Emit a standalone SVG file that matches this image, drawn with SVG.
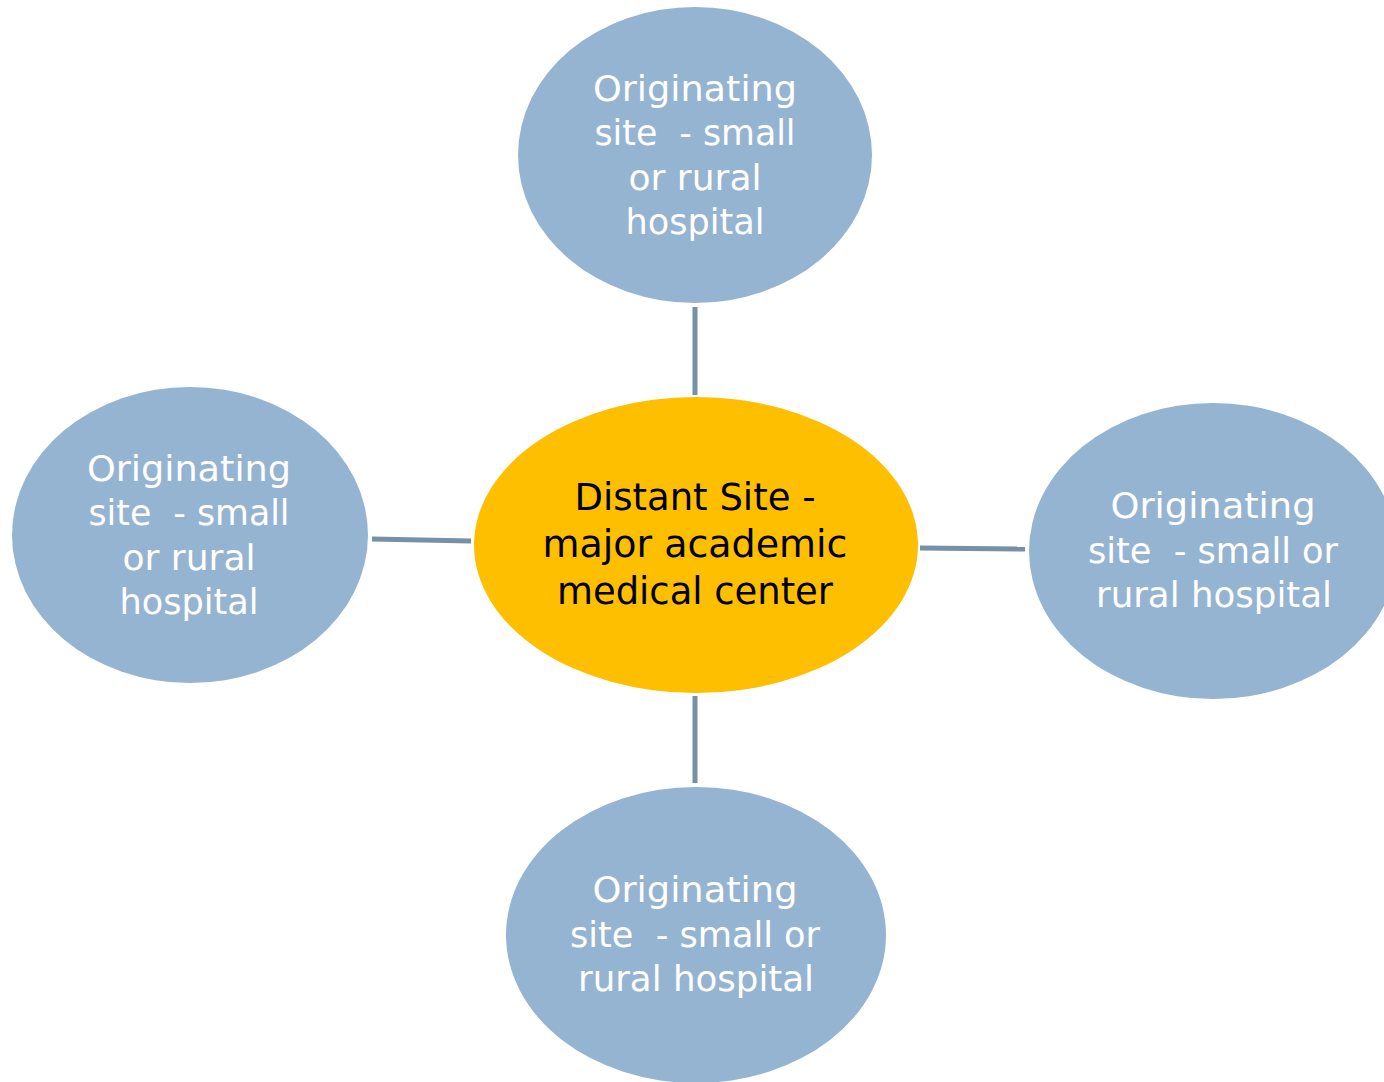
<svg xmlns="http://www.w3.org/2000/svg" width="1384" height="1082" viewBox="0 0 1384 1082">
  <style>
    .site { fill: #95b4d2; }
    .hub { fill: #fdbf00; }
    .link { stroke: #7690a8; stroke-width: 5; fill: none; }
    text { font-family: "DejaVu Sans", "Liberation Sans", sans-serif; text-anchor: middle; white-space: pre; }
    .lbl { fill: #ffffff; font-size: 35px; }
    .hub-lbl { fill: #000000; font-size: 37px; }
  </style>
  <rect width="1384" height="1082" fill="#ffffff"/>

  <g id="connectors">
    <line class="link" x1="695" y1="307" x2="695" y2="395"/>
    <line class="link" x1="695" y1="696" x2="695" y2="783"/>
    <line class="link" x1="372" y1="539" x2="471" y2="541"/>
    <line class="link" x1="920" y1="548" x2="1025" y2="549"/>
  </g>

  <g id="site-top">
    <ellipse class="site" cx="695" cy="155" rx="177" ry="148"/>
    <text class="lbl" x="695" y="101" textLength="204" lengthAdjust="spacingAndGlyphs">Originating</text>
    <text class="lbl" x="695" y="145" textLength="201" lengthAdjust="spacingAndGlyphs">site  - small</text>
    <text class="lbl" x="695" y="190" textLength="133" lengthAdjust="spacingAndGlyphs">or rural</text>
    <text class="lbl" x="695" y="234" textLength="139" lengthAdjust="spacingAndGlyphs">hospital</text>
  </g>

  <g id="site-left">
    <ellipse class="site" cx="190" cy="535" rx="178" ry="148"/>
    <text class="lbl" x="189" y="481" textLength="204" lengthAdjust="spacingAndGlyphs">Originating</text>
    <text class="lbl" x="189" y="525" textLength="201" lengthAdjust="spacingAndGlyphs">site  - small</text>
    <text class="lbl" x="189" y="570" textLength="133" lengthAdjust="spacingAndGlyphs">or rural</text>
    <text class="lbl" x="189" y="614" textLength="139" lengthAdjust="spacingAndGlyphs">hospital</text>
  </g>

  <g id="site-right">
    <ellipse class="site" cx="1213" cy="551" rx="184" ry="148"/>
    <text class="lbl" x="1213" y="518" textLength="205" lengthAdjust="spacingAndGlyphs">Originating</text>
    <text class="lbl" x="1213" y="563" textLength="250" lengthAdjust="spacingAndGlyphs">site  - small or</text>
    <text class="lbl" x="1214" y="607" textLength="236" lengthAdjust="spacingAndGlyphs">rural hospital</text>
  </g>

  <g id="site-bottom">
    <ellipse class="site" cx="696" cy="935" rx="190" ry="148"/>
    <text class="lbl" x="695" y="902" textLength="205" lengthAdjust="spacingAndGlyphs">Originating</text>
    <text class="lbl" x="695" y="947" textLength="250" lengthAdjust="spacingAndGlyphs">site  - small or</text>
    <text class="lbl" x="696" y="991" textLength="236" lengthAdjust="spacingAndGlyphs">rural hospital</text>
  </g>

  <g id="distant-site">
    <ellipse class="hub" cx="696" cy="545" rx="222" ry="148"/>
    <text class="hub-lbl" x="695" y="510" textLength="241" lengthAdjust="spacingAndGlyphs">Distant Site -</text>
    <text class="hub-lbl" x="695" y="557" textLength="305" lengthAdjust="spacingAndGlyphs">major academic</text>
    <text class="hub-lbl" x="695" y="604" textLength="276" lengthAdjust="spacingAndGlyphs">medical center</text>
  </g>
</svg>
